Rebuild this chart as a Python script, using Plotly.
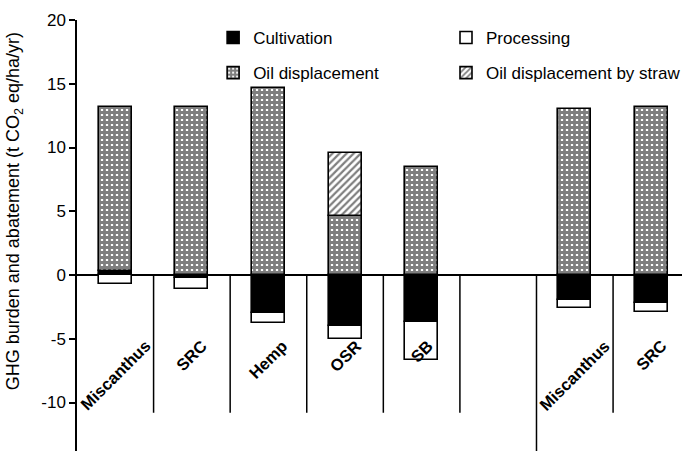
import plotly.graph_objects as go

# Crop groups; the gap at slot 5 separates the two sets
labels = ["Miscanthus", "SRC", "Hemp", "OSR", "SB", "Miscanthus", "SRC"]
positions = [0, 1, 2, 3, 4, 6, 7]

# GHG burden (negative) and abatement (positive), t CO2 eq/ha/yr
cultivation = [0.3, -0.2, -3.0, -4.0, -3.7, -1.95, -2.2]
processing = [-0.7, -0.9, -0.75, -1.05, -3.0, -0.6, -0.7]
oil_displacement = [12.9, 13.2, 14.7, 4.6, 8.45, 13.0, 13.2]
oil_by_straw = [None, None, None, 5.0, None, None, None]

y_ticks = [-10, -5, 0, 5, 10, 15, 20]

FONT = "Liberation Sans, Arial, sans-serif"
BAR_W = 0.43
EDGE = dict(color="black", width=1.6)

fig = go.Figure()
fig.add_trace(go.Bar(
    x=positions, y=cultivation, name="Cultivation", width=BAR_W,
    marker=dict(color="black", line=EDGE),
    legend="legend", legendgroup="a",
))
fig.add_trace(go.Bar(
    x=positions, y=processing, name="Processing", width=BAR_W,
    marker=dict(color="white", line=EDGE),
    legend="legend2", legendgroup="b",
))
fig.add_trace(go.Bar(
    x=positions, y=oil_displacement, name="Oil displacement", width=BAR_W,
    marker=dict(color="white", line=EDGE,
                pattern=dict(shape="+", fgcolor="black", bgcolor="white",
                             size=5, solidity=0.8, fillmode="overlay")),
    legend="legend", legendgroup="c",
))
fig.add_trace(go.Bar(
    x=positions, y=oil_by_straw, name="Oil displacement by straw", width=BAR_W,
    marker=dict(color="white", line=EDGE,
                pattern=dict(shape="/", fgcolor="black", bgcolor="white",
                             size=5, solidity=0.45, fillmode="overlay")),
    legend="legend2", legendgroup="d",
))

# Dividers between crop slots
shapes = []
for k in range(7):
    xb = k + 0.5
    if k == 5:
        shapes.append(dict(type="line", xref="x", yref="paper", x0=xb, x1=xb,
                           y0=0, y1=0.408, line=dict(color="black", width=1.5)))
    else:
        shapes.append(dict(type="line", xref="x", yref="y", x0=xb, x1=xb,
                           y0=0, y1=-10.8, line=dict(color="black", width=1.5)))

# Rotated crop names beneath the zero line
annotations = []
for x, lab in zip(positions, labels):
    annotations.append(dict(
        x=x, y=-4.6, xref="x", yref="y", text="<b>" + lab + "</b>",
        textangle=-45, showarrow=False, xanchor="center", yanchor="top",
        font=dict(family=FONT, size=16.5, color="black"),
    ))

# Vertical axis title
annotations.append(dict(
    x=-0.102, y=0.557, xref="paper", yref="paper",
    text="GHG burden and abatement (t CO<sub>2</sub> eq/ha/yr)",
    textangle=-90, showarrow=False, xanchor="center", yanchor="middle",
    font=dict(family=FONT, size=18, color="black"),
))

legend_style = dict(
    orientation="v", xanchor="left", yanchor="top",
    bgcolor="rgba(0,0,0,0)", font=dict(family=FONT, size=17, color="black"),
    traceorder="grouped", tracegroupgap=10, itemwidth=30,
)

fig.update_layout(
    width=686, height=451,
    margin=dict(l=77, r=0, t=20, b=0),
    paper_bgcolor="white", plot_bgcolor="white",
    barmode="relative", bargap=0,
    shapes=shapes, annotations=annotations,
    legend=dict(x=0.225, y=1.0, **legend_style),
    legend2=dict(x=0.61, y=1.0, **legend_style),
    font=dict(family=FONT, color="black"),
)
fig.update_xaxes(
    range=[-0.5, 7.4], showticklabels=False, ticks="", showgrid=False,
    zeroline=False, showline=False,
)
fig.update_yaxes(
    range=[-13.8, 20], tickvals=y_ticks, ticktext=[str(v) for v in y_ticks],
    ticks="outside", ticklen=6, tickwidth=1.5, tickcolor="black",
    showgrid=False, showline=True, linecolor="black", linewidth=1.5,
    zeroline=True, zerolinecolor="black", zerolinewidth=1.5,
    tickfont=dict(family=FONT, size=17, color="black"),
)

fig.write_html("out.html")
